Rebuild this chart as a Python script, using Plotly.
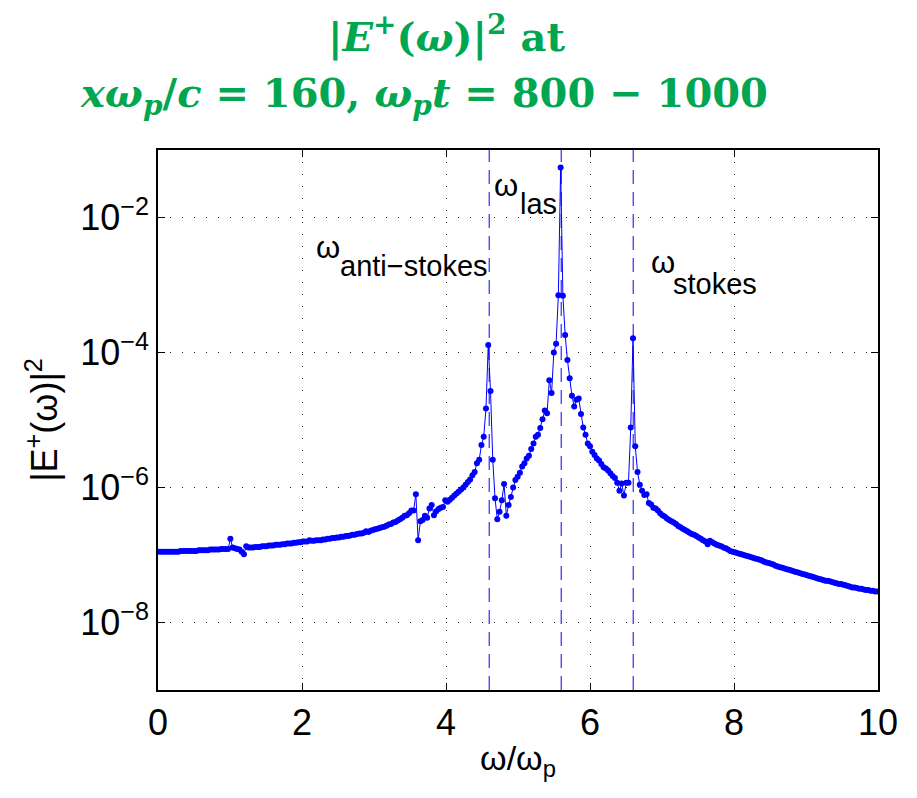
import numpy as np
import plotly.graph_objects as go

# spectrum |E+(w)|^2 sampled on the FFT grid dw = 2*pi/200 (t = 800..1000)
d_omega = 2 * np.pi / 200

# log10 of |E+|^2, one value per frequency bin
log_power = [
    -6.95, -6.95, -6.95, -6.95, -6.95, -6.95, -6.95, -6.95, -6.95, -6.95,
    -6.94, -6.94, -6.94, -6.94, -6.94, -6.94, -6.94, -6.94, -6.93, -6.93,
    -6.93, -6.93, -6.93, -6.92, -6.92, -6.92, -6.92, -6.92, -6.91, -6.91,
    -6.91, -6.91, -6.76, -6.89, -6.90, -6.91, -6.92, -6.95, -6.99, -6.87,
    -6.89, -6.89, -6.89, -6.88, -6.88, -6.88, -6.87, -6.87, -6.87, -6.86,
    -6.86, -6.86, -6.85, -6.85, -6.85, -6.84, -6.84, -6.83, -6.83, -6.83,
    -6.82, -6.82, -6.81, -6.81, -6.80, -6.80, -6.80, -6.78, -6.79, -6.79,
    -6.78, -6.78, -6.78, -6.77, -6.77, -6.76, -6.76, -6.75, -6.75, -6.74,
    -6.74, -6.73, -6.73, -6.72, -6.72, -6.71, -6.70, -6.70, -6.69, -6.68,
    -6.68, -6.67, -6.65, -6.66, -6.64, -6.63, -6.62, -6.61, -6.60, -6.59,
    -6.58, -6.565, -6.55, -6.54, -6.52, -6.51, -6.49, -6.47, -6.45, -6.42,
    -6.41, -6.38, -6.34, -6.34, -6.10, -6.78, -6.50, -6.48, -6.42, -6.45,
    -6.31, -6.26, -6.41, -6.35, -6.32, -6.30, -6.29, -6.19, -6.21, -6.18,
    -6.15, -6.12, -6.09, -6.06, -6.03, -6.00, -5.96, -5.92, -5.88, -5.82,
    -5.77, -5.64, -5.59, -5.37, -5.25, -4.83, -3.89, -4.57, -5.59, -6.16,
    -6.47, -6.36, -6.19, -5.95, -6.42, -6.26, -6.14, -6.00, -5.89, -5.84,
    -5.78, -5.69, -5.64, -5.57, -5.53, -5.43, -5.35, -5.25, -5.22, -5.12,
    -4.99, -4.86, -4.90, -4.41, -4.60, -4.00, -3.87, -3.15, -1.26, -3.16,
    -3.74, -4.11, -4.38, -4.64, -4.80, -4.70, -4.68, -4.91, -5.11, -5.22,
    -5.35, -5.39, -5.47, -5.52, -5.57, -5.60, -5.65, -5.70, -5.72, -5.75,
    -5.79, -5.83, -5.86, -5.93, -6.05, -5.94, -6.12, -5.93, -5.93, -5.11,
    -3.79, -5.39, -5.77, -5.96, -6.05, -6.11, -6.10, -6.23, -6.25, -6.30,
    -6.31, -6.34, -6.38, -6.41, -6.43, -6.46, -6.48, -6.50, -6.52, -6.54,
    -6.57, -6.59, -6.61, -6.63, -6.65, -6.67, -6.69, -6.70, -6.72, -6.74,
    -6.76, -6.78, -6.80, -6.84, -6.79, -6.81, -6.83, -6.85, -6.86, -6.87,
    -6.89, -6.90, -6.92, -6.94, -6.95, -6.96, -6.97, -6.98, -6.99, -7.00,
    -7.01, -7.02, -7.03, -7.04, -7.05, -7.06, -7.07, -7.08, -7.10, -7.11,
    -7.12, -7.13, -7.14, -7.16, -7.17, -7.18, -7.19, -7.20, -7.21, -7.22,
    -7.23, -7.24, -7.25, -7.26, -7.27, -7.28, -7.29, -7.30, -7.31, -7.32,
    -7.33, -7.34, -7.35, -7.36, -7.37, -7.38, -7.38, -7.39, -7.40, -7.41,
    -7.42, -7.43, -7.43, -7.44, -7.45, -7.46, -7.47, -7.48, -7.48, -7.49,
    -7.50, -7.50, -7.51, -7.52, -7.52, -7.53, -7.53, -7.54, -7.54,
]

omega = d_omega * np.arange(len(log_power))
power = [10 ** v for v in log_power]

# laser line and the two Raman satellites
line_omegas = [4.6, 5.6, 6.6]
line_names = ["anti−stokes", "las", "stokes"]

# label placement (data coords): omega glyph, then its subscript
omega_x = [2.17, 4.64, 6.82]
omega_y = [10 ** -2.44, 10 ** -1.52, 10 ** -2.67]
sub_x = [2.50, 5.00, 7.12]
sub_y = [10 ** -2.72, 10 ** -1.80, 10 ** -2.98]

y_tickvals = [1e-8, 1e-6, 1e-4, 1e-2]
y_ticktext = ["10<sup>−8</sup>", "10<sup>−6</sup>", "10<sup>−4</sup>", "10<sup>−2</sup>"]
x_tickvals = [0, 2, 4, 6, 8, 10]

BLUE = "#0000ff"
GREEN = "#00a650"
SANS = "Liberation Sans, Arial, sans-serif"
SERIF = "DejaVu Serif, serif"

fig = go.Figure()

for w in line_omegas:
    fig.add_trace(go.Scatter(
        x=[w, w], y=[1e-9, 1e-1], mode="lines",
        line=dict(color=BLUE, width=1, dash="14px,8px"),
        hoverinfo="skip",
    ))

fig.add_trace(go.Scatter(
    x=omega, y=power, mode="lines+markers",
    line=dict(color=BLUE, width=1),
    marker=dict(color=BLUE, size=6),
))

for name, ox, oy, sx, sy in zip(line_names, omega_x, omega_y, sub_x, sub_y):
    fig.add_annotation(
        x=ox, y=np.log10(oy), text="ω", showarrow=False,
        xanchor="left", yanchor="middle",
        font=dict(family=SANS, size=31, color="black"),
    )
    fig.add_annotation(
        x=sx, y=np.log10(sy), text=name, showarrow=False,
        xanchor="left", yanchor="middle",
        font=dict(family=SANS, size=29, color="black"),
    )

# two-line title (the page sits 8px in from the window corner)
fig.add_annotation(
    text="<b>|<i>E</i><sup>+</sup>(<i>ω</i>)|<sup>2</sup> at</b>",
    xref="paper", yref="paper", x=(446 - 158) / 720, y=(690 - 35) / 540,
    showarrow=False, xanchor="center", yanchor="middle",
    font=dict(family=SERIF, size=40, color=GREEN),
)
fig.add_annotation(
    text="<b><i>xω<sub>p</sub></i>/<i>c</i> = 160, <i>ω<sub>p</sub>t</i> = 800 − 1000</b>",
    xref="paper", yref="paper", x=(424 - 158) / 720, y=(690 - 96) / 540,
    showarrow=False, xanchor="center", yanchor="middle",
    font=dict(family=SERIF, size=40, color=GREEN),
)

axis_common = dict(
    showline=True, linecolor="black", linewidth=1.5, mirror="ticks",
    ticks="inside", ticklen=7, tickcolor="black",
    showgrid=True, gridcolor="#222", gridwidth=1, griddash="1px,11px",
    zeroline=False,
    tickfont=dict(family=SANS, size=36, color="black"),
)

fig.update_layout(
    width=909, height=790,
    paper_bgcolor="white", plot_bgcolor="white",
    margin=dict(l=150, r=39, t=142, b=108),
    showlegend=False,
    xaxis=dict(
        range=[0, 10], tickvals=x_tickvals,
        title=dict(text="ω/ω<sub>p</sub>", font=dict(family=SANS, size=34, color="black"),
                   standoff=4),
        **axis_common,
    ),
    yaxis=dict(
        type="log", range=[-9, -1], tickvals=y_tickvals, ticktext=y_ticktext,
        title=dict(text="|E<sup>+</sup>(ω)|<sup>2</sup>",
                   font=dict(family=SANS, size=36, color="black"), standoff=12),
        **axis_common,
    ),
)

fig.write_html("out.html")
